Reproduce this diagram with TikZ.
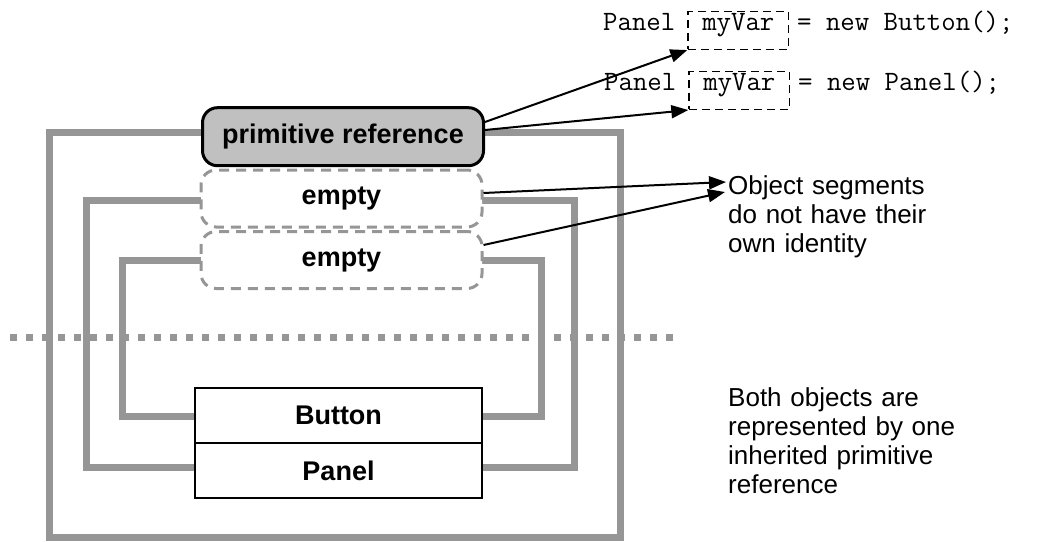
\documentclass[tikz,border=0pt]{standalone}
\usepackage{fontspec}
\setmainfont{Liberation Sans}
\usetikzlibrary{arrows.meta}
\definecolor{framegray}{RGB}{150,150,150}
\definecolor{boxgray}{RGB}{192,192,192}
\tikzset{
  frame/.style={draw=framegray, line width=7pt},
  dotline/.style={draw=framegray, line width=7pt, dash pattern=on 7pt off 9pt},
  labelfont/.style={font=\fontsize{27}{30}\selectfont\bfseries},
  refbox/.style={labelfont, draw=black, line width=3pt, fill=boxgray, rounded corners=15pt,
    minimum width=281pt, minimum height=58pt, inner sep=0pt},
  emptybox/.style={labelfont, draw=framegray, line width=3pt, dash pattern=on 10pt off 7pt,
    fill=white, rounded corners=15pt, minimum width=281pt, minimum height=57pt, inner sep=0pt},
  classbox/.style={labelfont, draw=black, line width=2pt, fill=white,
    minimum width=287pt, minimum height=55pt, inner sep=0pt},
  code/.style={font=\fontsize{28}{30}\selectfont\ttfamily, inner sep=0pt, anchor=base west},
  varbox/.style={code, draw=black, line width=1.5pt, dash pattern=on 8pt off 5pt,
    inner xsep=14.25pt, text height=18.3pt, text depth=19.3pt},
  note/.style={font=\fontsize{26}{29}\selectfont, text width=300pt, align=left,
    inner sep=0pt, anchor=base west},
  arr/.style={draw=black, line width=2pt, -{Triangle[length=17pt,width=13pt]}},
}
\begin{document}
\begin{tikzpicture}[x=1pt, y=-1pt]
\useasboundingbox (0,0) rectangle (1040,541);

% dotted separator
\draw[dotline] (10,337) -- (675,337);

% nested object frames
\draw[frame] (49,132) rectangle (620,537.7);
\draw[frame] (86,200) rectangle (574,467);
\draw[frame] (122,260) rectangle (541,416);

% reference and segment boxes
\node[refbox]   (prim)   at (343,136.7) {primitive reference};
\node[emptybox] (empty1) at (341.5,198.5) {empty};
\node[emptybox] (empty2) at (341.5,260) {empty};
\node[classbox] (button) at (338.5,415.7) {Button};
\node[classbox] (panel)  at (338.5,470.8) {Panel};

% code lines
\node[code]   (p1) at (603,30) {Panel};
\node[varbox] (v1) at (687.3,30) {myVar};
\node[code]   (r1) at (797,30) {= new Button();};
\node[code]   (p2) at (604,90) {Panel};
\node[varbox] (v2) at (688.3,90) {myVar};
\node[code]   (r2) at (798,90) {= new Panel();};

% notes
\node[note] (note1) at (728,194) {Object segments\\do not have their\\own identity};
\node[note] (note2) at (728,406) {Both objects are\\represented by one\\inherited primitive\\reference};
\coordinate (t1) at (726,182);
\coordinate (t2) at (725,192);

% connectors
\draw[arr] ([yshift=14.7pt]prim.east) -- (v1.south west);
\draw[arr] ([yshift=6.7pt]prim.east) -- (v2.south west);
\draw[arr] ([yshift=5.5pt]empty1.east) -- (t1);
\draw[arr] ([yshift=15pt]empty2.east) -- (t2);
\end{tikzpicture}
\end{document}
